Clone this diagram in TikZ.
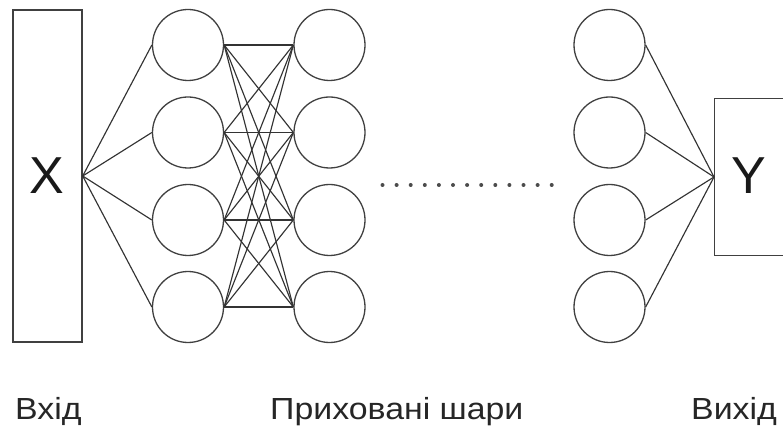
\documentclass[tikz,border=0pt]{standalone}
\usepackage{fontspec}
\setmainfont{Liberation Sans}
\newcommand{\widetext}[1]{\scalebox{1.11}[1]{#1}}
\begin{document}
\begin{tikzpicture}[x=1pt,y=1pt,
  neuron/.style={circle,draw=black!75,line width=1.3pt,minimum size=71pt,inner sep=0pt},
  iobox/.style={rectangle,draw=black!75,line width=1.4pt,inner sep=0pt},
  link/.style={draw=black!80,line width=1.15pt},
  biglabel/.style={font=\fontsize{52}{52}\selectfont,text=black!90,inner sep=0pt},
  caption/.style={font=\fontsize{30.5}{32}\selectfont,text=black!85,inner sep=0pt,anchor=base west},
  dotline/.style={draw=black!70,line width=4pt,line cap=round,dash pattern=on 0pt off 14.1pt}]
\useasboundingbox (0,0) rectangle (783,431);
\clip (0,0) rectangle (783,431);
% input
\node[iobox,minimum width=69pt,minimum height=332pt] (in) at (47.5,255) {};
\node[biglabel] (xlab) at (46.5,255.5) {X};
% output
\node[iobox,minimum width=100pt,minimum height=157pt,anchor=west] (out) at (714,254) {};
\node[biglabel] (ylab) at (748.5,255.5) {Y};
% layers
\foreach \i/\y in {1/386,2/298.5,3/211,4/124}{
  \node[neuron] (a\i) at (188,\y) {};
  \node[neuron] (b\i) at (329.5,\y) {};
  \node[neuron] (c\i) at (609.5,\y) {};
}
% connections
\foreach \i in {1,...,4}{
  \draw[link] (in.east) -- (a\i.west);
  \draw[link] (c\i.east) -- (out.west);
  \foreach \j in {1,...,4}{
    \draw[link] (a\i.east) -- (b\j.west);
  }
}
% dots
\coordinate (d1) at (382.5,246);
\coordinate (d2) at (552,246);
\draw[dotline] (d1) -- (d2);
% captions
\node[caption] (t1) at (15,12) {\widetext{Вхід}};
\node[caption] (t2) at (270,12) {\widetext{Приховані шари}};
\node[caption] (t3) at (691,12) {\widetext{Вихід}};
\end{tikzpicture}
\end{document}
